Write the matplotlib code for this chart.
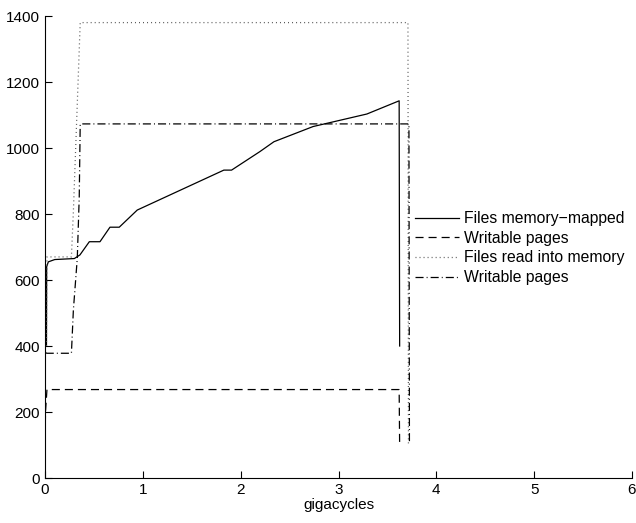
import matplotlib
matplotlib.use("Agg")
import matplotlib.pyplot as plt

plt.rcParams['font.family'] = ['Liberation Sans', 'DejaVu Sans']
plt.rcParams['lines.scale_dashes'] = False

# files memory-mapped
mm_x = [0.015, 0.017, 0.034, 0.10, 0.30, 0.357, 0.453, 0.562, 0.664, 0.759, 0.943,
        1.828, 1.907, 2.196, 2.34, 2.74, 3.29, 3.62, 3.625]
mm_y = [400, 640, 655, 662, 665, 676, 716, 716, 760, 760, 812,
        933, 933, 989, 1019, 1065, 1103, 1143, 400]

# writable pages (memory-mapped)
mmw_x = [0.0, 0.005, 0.02, 3.62, 3.625]
mmw_y = [85, 200, 268, 268, 97]

# files read into memory
rd_x = [0.015, 0.02, 0.27, 0.29, 0.36, 3.71, 3.715]
rd_y = [400, 670, 670, 807, 1380, 1380, 100]

# writable pages (read into memory)
rdw_x = [0.01, 0.017, 0.27, 0.29, 0.33, 0.35, 0.36, 3.72, 3.725]
rdw_y = [380, 378, 378, 509, 666, 852, 1073, 1073, 106]

fig = plt.figure(figsize=(6.36, 5.23), dpi=100)
ax = fig.add_axes([45/636, 1-478/523, 587/636, 462/523])

lw = 0.9
ax.plot(mm_x, mm_y, color='black', lw=lw, label='Files memory\u2212mapped')
ax.plot(mmw_x, mmw_y, color='black', lw=lw, linestyle=(0, (5.8, 3.6)), label='Writable pages')
ax.plot(rd_x, rd_y, color='#555555', lw=lw, linestyle=(0, (0.7, 2.2)), label='Files read into memory')
ax.plot(rdw_x, rdw_y, color='black', lw=lw, linestyle=(0, (5.8, 2.2, 0.7, 2.2)), label='Writable pages')

ax.set_xlim(0, 6)
ax.set_ylim(0, 1400)
ax.set_xticks([0, 1, 2, 3, 4, 5, 6])
ax.set_yticks([0, 200, 400, 600, 800, 1000, 1200, 1400])
ax.tick_params(direction='in', length=5, labelsize=11, width=0.8)
ax.spines['top'].set_visible(False)
ax.spines['right'].set_visible(False)
ax.set_xlabel('gigacycles', fontsize=11, labelpad=1)

ax.legend(loc='upper left', bbox_to_anchor=(415/636, 1-211/523),
          bbox_transform=fig.transFigure, frameon=False, fontsize=11.3,
          handlelength=2.8, handletextpad=0.35, labelspacing=0.3,
          borderpad=0, borderaxespad=0)

fig.savefig('out.png', dpi=100)
